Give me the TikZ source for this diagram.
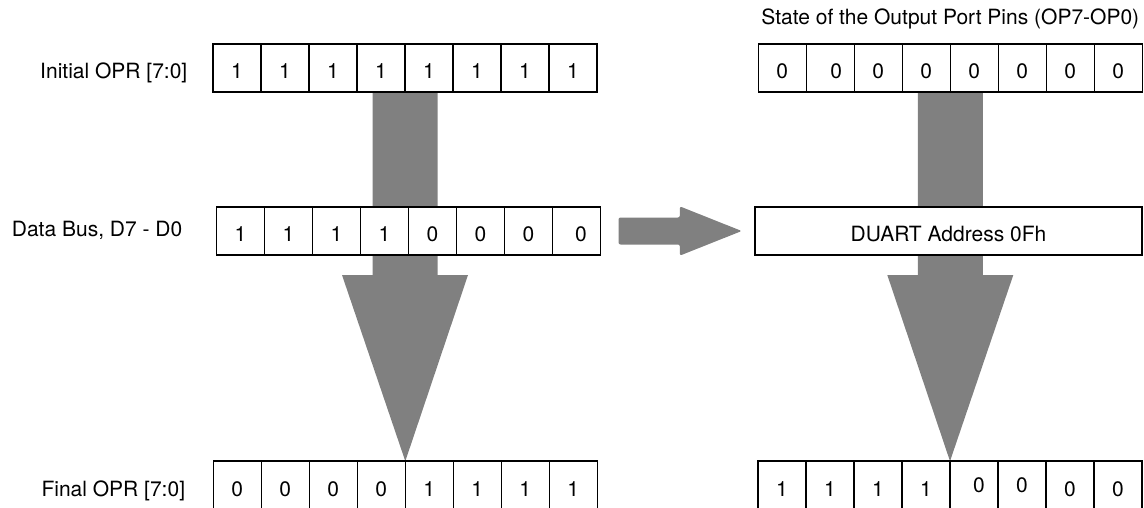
\documentclass[tikz,border=0pt]{standalone}
\usepackage{fontspec}
\setmainfont{TeX Gyre Heros}
\usetikzlibrary{positioning,calc,backgrounds}
\tikzset{
  cell/.style={draw,fill=white,line width=1.6pt,minimum width=48pt,minimum height=48pt,inner sep=0pt,outer sep=0pt,text height=21.9pt,text depth=0pt},
  lbl/.style={inner sep=0pt,text height=21.9pt,text depth=0pt},
  fat/.style={fill=gray}
}
\newcommand\bitrow[4]{%
  \foreach \b [count=\i] in {#4}
    \node[cell] (#1\i) at ({#2+48*\i-24},#3) {\b};}
\newcommand\fatdown[2]{%
  \fill[fat] ($(#1)+(-32.5,0)$) -- ($(#1)+(32.5,0)$) -- ($(#1)+(32.5,183)$)
    -- ($(#1)+(63,183)$) -- (#2) -- ($(#1)+(-63,183)$) -- ($(#1)+(-32.5,183)$) -- cycle;}

\begin{document}
\begin{tikzpicture}[x=1pt,y=-1pt,font=\fontsize{21}{25}\selectfont]
\useasboundingbox (0,0) rectangle (1144,508);

\bitrow{ini}{213}{68}{1,1,1,1,1,1,1,1}
\bitrow{bus}{216.5}{231}{1,1,1,1,0,0,0,\hspace*{9pt}0}
\bitrow{fin}{213.3}{485.2}{0,0,0,0,1,1,1,1}
\bitrow{pin}{758.3}{68}{0,\hspace*{12pt}0,0,0,0,0,0,0}
\bitrow{out}{758}{485.2}{1,1,1,1,\raisebox{3.5pt}{\hspace*{10pt}0},\raisebox{3.5pt}{0},0,0}

\node[cell,minimum width=387pt] (duart) at (948.5,231) {DUART Address 0Fh};

\node[lbl,left=25.5pt of ini1] (lini) {Initial OPR [7:0]};
\node[lbl,left=34pt of bus1,yshift=5pt] (lbus) {Data Bus, D7 - D0};
\node[lbl,left=28pt of fin1] (lfin) {Final OPR [7:0]};
\node[lbl,above=19pt of pin4.north east] (ttl) {State of the Output Port Pins (OP7-OP0)};

\begin{scope}[on background layer]
\fatdown{ini4.south east}{fin4.north east}
\fatdown{pin4.south east}{out4.north east}
\fill[fat,rounded corners=2pt] ($(bus8.east)+(18,-13.5)$) -- ($(bus8.east)+(79.4,-13.5)$)
  -- ($(bus8.east)+(79.4,-24.6)$) -- ($(duart.west)+(-13.3,0)$) -- ($(bus8.east)+(79.4,24.6)$)
  -- ($(bus8.east)+(79.4,13.5)$) -- ($(bus8.east)+(18,13.5)$) -- cycle;
\end{scope}

\end{tikzpicture}
\end{document}
